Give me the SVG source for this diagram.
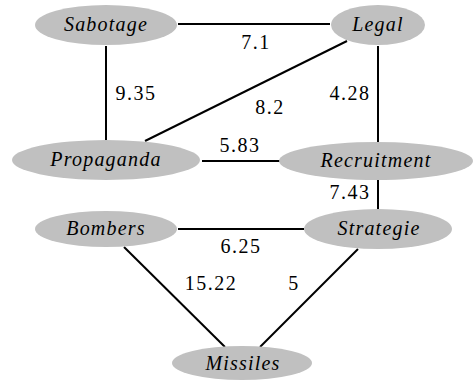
<svg xmlns="http://www.w3.org/2000/svg" width="473" height="381" viewBox="0 0 473 381">
<style>
.n ellipse{fill:#c0c0c0;stroke:none}
.n text{font-family:'Liberation Serif',serif;font-style:italic;font-size:20px;fill:#000;text-anchor:middle;letter-spacing:1.2px}
.e line{stroke:#000;stroke-width:2}
.e text{font-family:'Liberation Serif',serif;font-size:20px;fill:#000;text-anchor:middle;letter-spacing:1.5px}
</style>
<rect width="473" height="381" fill="#fff"/>
<g class="e" id="edges">
<line x1="178" y1="24" x2="330" y2="24"/>
<line x1="106" y1="46" x2="106" y2="140"/>
<line x1="347" y1="41" x2="145" y2="141"/>
<line x1="378" y1="46" x2="378" y2="143"/>
<line x1="202" y1="161" x2="280" y2="161"/>
<line x1="378" y1="180" x2="378" y2="209"/>
<line x1="178" y1="229" x2="304" y2="229"/>
<line x1="124" y1="247" x2="225" y2="347"/>
<line x1="358" y1="249" x2="260" y2="347"/>
<text x="256" y="49">7.1</text>
<text x="136" y="100">9.35</text>
<text x="270" y="114">8.2</text>
<text x="350" y="100">4.28</text>
<text x="240" y="152">5.83</text>
<text x="350" y="199">7.43</text>
<text x="241" y="253">6.25</text>
<text x="211" y="290">15.22</text>
<text x="294" y="290">5</text>
</g>
<g class="n" id="Sabotage"><ellipse cx="106" cy="25" rx="71" ry="20"/><text x="106" y="31">Sabotage</text></g>
<g class="n" id="Legal"><ellipse cx="378" cy="25" rx="47" ry="20"/><text x="378" y="31">Legal</text></g>
<g class="n" id="Propaganda"><ellipse cx="106" cy="160" rx="94" ry="20"/><text x="106" y="166">Propaganda</text></g>
<g class="n" id="Recruitment"><ellipse cx="376" cy="161" rx="97" ry="19"/><text x="376" y="167">Recruitment</text></g>
<g class="n" id="Bombers"><ellipse cx="106" cy="229" rx="71" ry="18"/><text x="106" y="235">Bombers</text></g>
<g class="n" id="Strategie"><ellipse cx="378" cy="229" rx="74" ry="20"/><text x="379" y="235">Strategie</text></g>
<g class="n" id="Missiles"><ellipse cx="242" cy="363" rx="70" ry="17"/><text x="243" y="370">Missiles</text></g>
</svg>
